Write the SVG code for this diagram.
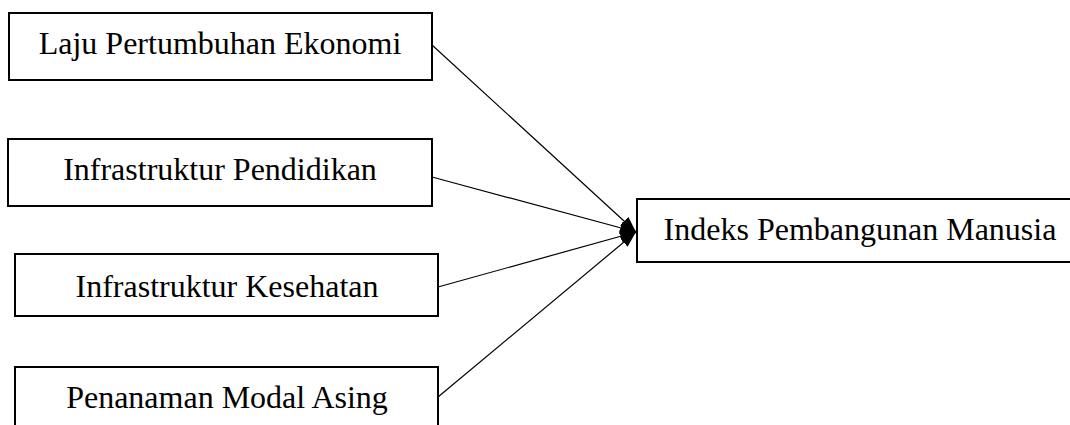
<svg xmlns="http://www.w3.org/2000/svg" width="1070" height="425" viewBox="0 0 1070 425">
<style>
.box{fill:#fff;stroke:#000;stroke-width:2}
.lbl{font-family:"Liberation Serif","Times New Roman",serif;font-size:32px;fill:#000;text-anchor:middle}
.con{stroke:#000;stroke-width:1.2;fill:none;marker-end:url(#arr)}
</style>
<defs>
<marker id="arr" viewBox="0 0 16 12" refX="16" refY="6" markerWidth="16" markerHeight="12" markerUnits="userSpaceOnUse" orient="auto">
<path d="M0,0 L16,6 L0,12 Z" fill="#000"/>
</marker>
</defs>
<rect width="1070" height="425" fill="#fff"/>
<g id="connectors">
<line class="con" x1="432" y1="45" x2="636" y2="232"/>
<line class="con" x1="432" y1="177" x2="636" y2="232"/>
<line class="con" x1="438" y1="287" x2="636" y2="232"/>
<line class="con" x1="438" y1="397" x2="636" y2="232"/>
</g>
<g id="n1"><rect class="box" x="9" y="13" width="423" height="67"/><text class="lbl" x="220" y="54">Laju Pertumbuhan Ekonomi</text></g>
<g id="n2"><rect class="box" x="8" y="139" width="424" height="67"/><text class="lbl" x="220" y="180">Infrastruktur Pendidikan</text></g>
<g id="n3"><rect class="box" x="15" y="254" width="423" height="62"/><text class="lbl" x="227" y="297">Infrastruktur Kesehatan</text></g>
<g id="n4"><rect class="box" x="15" y="367" width="423" height="70"/><text class="lbl" x="227" y="408">Penanaman Modal Asing</text></g>
<g id="n5"><rect class="box" x="637" y="199" width="446" height="63"/><text class="lbl" x="860" y="240">Indeks Pembangunan Manusia</text></g>
</svg>
